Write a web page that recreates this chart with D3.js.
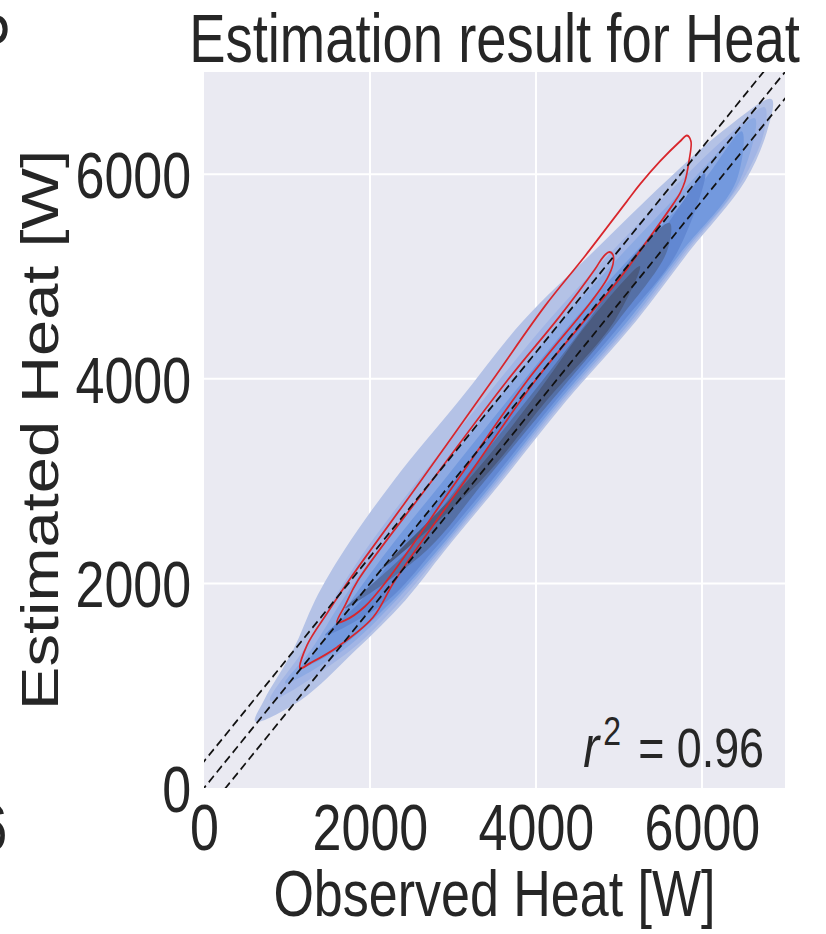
<!DOCTYPE html>
<html>
<head>
<meta charset="utf-8">
<script src="https://cdn.jsdelivr.net/npm/d3@7"></script>
<style>
  html, body { margin: 0; padding: 0; background: #fff; }
  svg { display: block; }
  text { font-family: "Liberation Sans", Arial, sans-serif; fill: #262626; }
</style>
</head>
<body>
<script>
    // Data (Observed [W], Estimated [W])

    var xTicks = [0, 2000, 4000, 6000];
    var yTicks = [0, 2000, 4000, 6000];
    var refOffset = 260;          // spacing of the two outer dashed reference lines
    var r2Label = "0.96";

    // filled kde levels, outermost first
    var kdeLevel1 = [[614,653],[723,859],[1072,1346],[1337,1834],[1687,2322],[2285,3005],[3072,3785],[3843,4566],[4699,5249],[5566,5932],[6241,6419],[6843,6732],
                     [6783,6419],[6518,5932],[5849,5249],[5206,4566],[4365,3785],[3595,3005],[2902,2322],[2424,1834],[1826,1346],[1165,859]];
    var kdeLevel2 = [[795,859],[1196,1346],[1554,1834],[1942,2322],[2575,3005],[3355,3785],[4146,4566],[4919,5249],[5732,5932],[6369,6419],[6759,6654],
                     [6749,6419],[6482,5932],[5819,5249],[5176,4566],[4335,3785],[3565,3005],[2872,2322],[2374,1834],[1766,1346]];
    var kdeLevel3 = [[976,1024],[1286,1346],[1664,1834],[2092,2322],[2755,3005],[3525,3785],[4306,4566],[5069,5249],[5872,5932],[6639,6546],
                     [6452,5932],[5789,5249],[5146,4566],[4305,3785],[3535,3005],[2842,2322],[2314,1834],[1676,1346]];
    var kdeLevel4 = [[1157,1171],[1356,1346],[1774,1834],[2212,2322],[2885,3005],[3655,3785],[4446,4566],[5209,5249],[6012,5932],[6482,6419],
                     [6412,5932],[5759,5249],[5106,4566],[4275,3785],[3505,3005],[2812,2322],[2274,1834],[1596,1346]];
    var kdeLevel5 = [[1458,1493],[1894,1834],[2342,2322],[3015,3005],[3785,3785],[4586,4566],[5349,5249],[6036,6010],
                     [5709,5249],[5056,4566],[4235,3785],[3465,3005],[2762,2322],[2214,1834]];
    var kdeLevel6 = [[1699,1756],[2462,2322],[3115,3005],[3885,3785],[4626,4566],[5229,5249],[5614,5522],
                     [5579,5249],[4986,4566],[4185,3785],[3385,3005],[2682,2322]];
    var kdeLevel7 = [[2120,2127],[3175,3005],[3945,3785],[4646,4566],[5253,5102],
                     [4946,4566],[4125,3785],[3335,3005]];
    var kdeColors = ["#b4c2e6", "#a2b5e5", "#8daae3", "#7399de", "#6288d2", "#5570a6", "#4b5b80"];

    // red contour lines
    var redOuter = [[1157,1171],[1241,1395],[1482,1707],[1747,2029],[1916,2224],[2614,3005],[3470,3980],[4108,4712],[4590,5200],[5096,5737],[5253,5902],[5494,6127],[5735,6322],[5819,6380],
                    [5867,6322],[5843,6127],[5795,5932],[5735,5815],[5651,5707],[5337,5346],[5012,4985],[4530,4517],[3988,3980],[3145,3005],[2301,2029],[2036,1668],[1602,1376],[1277,1220]];
    var redInner = [[1602,1620],[1699,1785],[1855,2029],[2747,3005],[3651,3980],[4289,4615],[4711,5073],[4807,5190],[4879,5239],
                    [4928,5210],[4928,5122],[4855,4976],[4651,4741],[3892,3980],[3048,3005],[2205,2029],[1940,1776],[1699,1639]];

    // The picture is stretched vertically, so draw in a wider box and squeeze it
    var w = 826;
    var h = 934;
    var vw = w / 0.8;

    var plot = {left: 255, right: 981.25, top: 72, bottom: 788};

    var svg = d3.select("body")
        .append("svg")
        .attr("width", w)
        .attr("height", h)
        .attr("viewBox", `0 0 ${vw} ${h}`)
        .attr("preserveAspectRatio", "none");

    var x = d3.scaleLinear().domain([0, 7000]).range([plot.left, plot.right]);
    var y = d3.scaleLinear().domain([0, 7000]).range([plot.bottom, plot.top]);

    svg.append("defs").append("clipPath")
        .attr("id", "plotclip")
      .append("rect")
        .attr("x", plot.left)
        .attr("y", plot.top)
        .attr("width", plot.right - plot.left)
        .attr("height", plot.bottom - plot.top);

    // background and grid
    svg.append("rect")
        .attr("x", plot.left)
        .attr("y", plot.top)
        .attr("width", plot.right - plot.left)
        .attr("height", plot.bottom - plot.top)
        .attr("fill", "#eaeaf2");

    var grid = svg.append("g");
    grid.selectAll(".vgrid")
        .data(xTicks.slice(1))
        .enter().append("line")
        .attr("x1", d => x(d)).attr("x2", d => x(d))
        .attr("y1", plot.top).attr("y2", plot.bottom)
        .attr("stroke", "#fff")
        .attr("stroke-width", 2.6);
    grid.selectAll(".hgrid")
        .data(yTicks.slice(1))
        .enter().append("line")
        .attr("x1", plot.left).attr("x2", plot.right)
        .attr("y1", d => y(d)).attr("y2", d => y(d))
        .attr("stroke", "#fff")
        .attr("stroke-width", 2);

    var inner = svg.append("g").attr("clip-path", "url(#plotclip)");

    var shape = d3.line()
        .x(d => x(d[0]))
        .y(d => y(d[1]))
        .curve(d3.curveCatmullRomClosed.alpha(0.5));

    // filled density levels
    var levels = [kdeLevel1, kdeLevel2, kdeLevel3, kdeLevel4, kdeLevel5, kdeLevel6, kdeLevel7];
    inner.selectAll(".kde")
        .data(levels)
        .enter().append("path")
        .attr("d", shape)
        .attr("fill", (d, i) => kdeColors[i])
        .attr("stroke", "none");

    // red contours
    inner.selectAll(".red")
        .data([redOuter, redInner])
        .enter().append("path")
        .attr("d", shape)
        .attr("fill", "none")
        .attr("stroke", "#d8262c")
        .attr("stroke-width", 2);

    // dashed reference lines y = x, y = x +/- offset
    inner.selectAll(".ref")
        .data([refOffset, 0, -refOffset])
        .enter().append("line")
        .attr("x1", d => x(-1000)).attr("y1", d => y(-1000 + d))
        .attr("x2", d => x(8000)).attr("y2", d => y(8000 + d))
        .attr("stroke", "#111")
        .attr("stroke-width", 2)
        .attr("stroke-dasharray", "9,5");

    // axes (labels only, seaborn darkgrid has no ticks or spines)
    var xAxis = svg.append("g")
        .attr("transform", `translate(0, ${plot.bottom})`)
        .call(d3.axisBottom(x).tickValues(xTicks).tickFormat(d3.format("d")).tickSize(0).tickPadding(16));
    var yAxis = svg.append("g")
        .attr("transform", `translate(${plot.left}, 0)`)
        .call(d3.axisLeft(y).tickValues(yTicks).tickFormat(d3.format("d")).tickSize(0).tickPadding(16));

    [xAxis, yAxis].forEach(function (g) {
        g.select(".domain").remove();
        g.selectAll("text")
            .attr("font-size", 65)
            .attr("font-family", null)
            .attr("fill", "#262626");
    });
    yAxis.selectAll("text").attr("dy", "0.36em");

    // titles
    svg.append("text")
        .attr("x", (plot.left + plot.right) / 2)
        .attr("y", 62)
        .attr("text-anchor", "middle")
        .attr("font-size", 68)
        .text("Estimation result for Heat");

    svg.append("text")
        .attr("x", (plot.left + plot.right) / 2)
        .attr("y", 916)
        .attr("text-anchor", "middle")
        .attr("font-size", 65)
        .text("Observed Heat [W]");

    svg.append("text")
        .attr("transform", `translate(73, ${(plot.top + plot.bottom) / 2}) rotate(-90)`)
        .attr("text-anchor", "middle")
        .attr("font-size", 65)
        .text("Estimated Heat [W]");

    // r^2 annotation
    var r2 = svg.append("text")
        .attr("x", 955)
        .attr("y", 767)
        .attr("text-anchor", "end")
        .attr("font-size", 56);
    r2.append("tspan").attr("font-style", "italic").attr("font-size", 60).text("r");
    r2.append("tspan").attr("font-size", 40).attr("dx", 5).attr("dy", -22).text("2");
    r2.append("tspan").attr("dx", 6).attr("dy", 22).text(" = " + r2Label);

    // bits of the neighbouring panels cut off at the left edge
    svg.append("text")
        .attr("x", 13).attr("y", 62)
        .attr("text-anchor", "end")
        .attr("font-size", 68)
        .text("P");
    svg.append("text")
        .attr("x", 9).attr("y", 850)
        .attr("text-anchor", "end")
        .attr("font-size", 65)
        .text("6");
</script>
</body>
</html>
